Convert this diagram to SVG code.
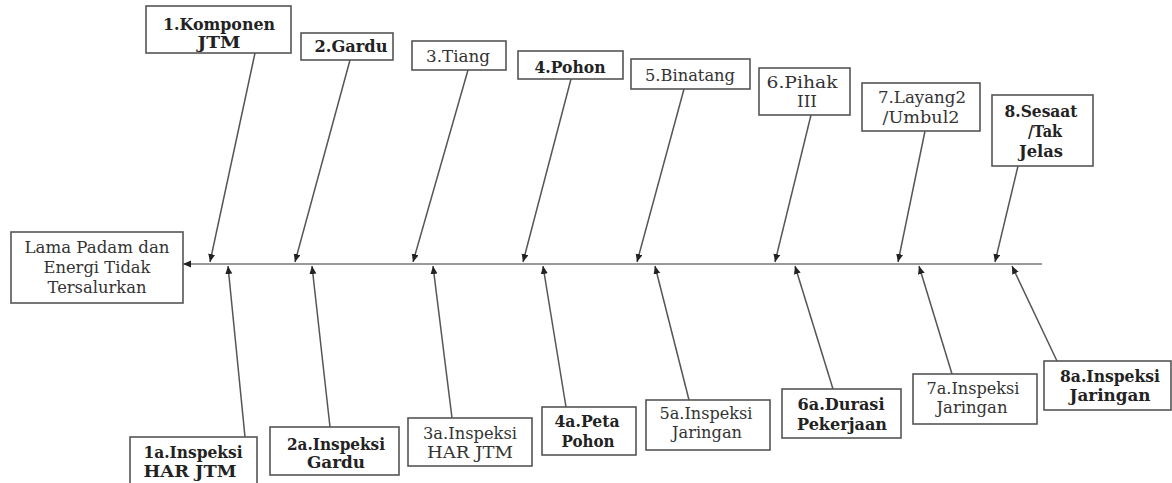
<svg xmlns="http://www.w3.org/2000/svg" width="1172" height="483" viewBox="0 0 1172 483">
<style>
rect{fill:#fff;stroke:#555;stroke-width:1.6}
text{font-family:'DejaVu Serif','Liberation Serif',serif;font-size:16px;fill:#333;text-anchor:middle}
.b{font-weight:bold;fill:#222}
.c line{stroke:#555;stroke-width:1.5;marker-end:url(#ah)}
.c line.sp{stroke:#777}
</style>
<defs>
<marker id="ah" markerUnits="userSpaceOnUse" markerWidth="9" markerHeight="8" refX="8" refY="3.5" orient="auto"><path d="M0,0 L8,3.5 L0,7 z" fill="#222"/></marker>
</defs>
<g class="c" id="connectors">
<line class="sp" x1="1042" y1="264" x2="183" y2="264"/>
<line x1="255" y1="53" x2="210" y2="262"/>
<line x1="350" y1="60" x2="295" y2="262"/>
<line x1="468" y1="70" x2="413" y2="262"/>
<line x1="571" y1="79" x2="523" y2="262"/>
<line x1="684" y1="89" x2="637" y2="262"/>
<line x1="811" y1="115" x2="775" y2="262"/>
<line x1="925" y1="131" x2="898" y2="262"/>
<line x1="1018" y1="166" x2="995" y2="262"/>
<line x1="245" y1="437" x2="228" y2="266"/>
<line x1="330" y1="427" x2="312" y2="266"/>
<line x1="452" y1="418" x2="433" y2="266"/>
<line x1="566" y1="407" x2="543" y2="266"/>
<line x1="689" y1="400" x2="655" y2="266"/>
<line x1="833" y1="389" x2="795" y2="266"/>
<line x1="952" y1="374" x2="919" y2="266"/>
<line x1="1057" y1="361" x2="1012" y2="266"/>
</g>
<g id="head"><rect x="11" y="232" width="172" height="71"/>
<text x="97" y="253" textLength="145" lengthAdjust="spacingAndGlyphs">Lama Padam dan</text>
<text x="97" y="273" textLength="107" lengthAdjust="spacingAndGlyphs">Energi Tidak</text>
<text x="97" y="293" textLength="99" lengthAdjust="spacingAndGlyphs">Tersalurkan</text></g>
<g id="n1"><rect x="146" y="6" width="145" height="47"/>
<text class="b" x="219" y="30" textLength="112" lengthAdjust="spacingAndGlyphs">1.Komponen</text>
<text class="b" x="219" y="48" textLength="43" lengthAdjust="spacingAndGlyphs">JTM</text></g>
<g id="n2"><rect x="301" y="33" width="92" height="27"/>
<text class="b" x="351" y="52" textLength="73" lengthAdjust="spacingAndGlyphs">2.Gardu</text></g>
<g id="n3"><rect x="412" y="41" width="94" height="29"/>
<text x="458" y="62" textLength="64" lengthAdjust="spacingAndGlyphs">3.Tiang</text></g>
<g id="n4"><rect x="518" y="51" width="105" height="28"/>
<text class="b" x="570" y="73" textLength="71" lengthAdjust="spacingAndGlyphs">4.Pohon</text></g>
<g id="n5"><rect x="631" y="59" width="119" height="30"/>
<text x="690" y="81" textLength="90" lengthAdjust="spacingAndGlyphs">5.Binatang</text></g>
<g id="n6"><rect x="759" y="68" width="91" height="47"/>
<text x="802" y="88" textLength="71" lengthAdjust="spacingAndGlyphs">6.Pihak</text>
<text x="807" y="107" textLength="20" lengthAdjust="spacingAndGlyphs">III</text></g>
<g id="n7"><rect x="862" y="83" width="118" height="48"/>
<text x="922" y="103" textLength="88" lengthAdjust="spacingAndGlyphs">7.Layang2</text>
<text x="921" y="123" textLength="77" lengthAdjust="spacingAndGlyphs">/Umbul2</text></g>
<g id="n8"><rect x="992" y="95" width="101" height="71"/>
<text class="b" x="1041" y="117" textLength="73" lengthAdjust="spacingAndGlyphs">8.Sesaat</text>
<text class="b" x="1045" y="137" textLength="34" lengthAdjust="spacingAndGlyphs">/Tak</text>
<text class="b" x="1041" y="157" textLength="44" lengthAdjust="spacingAndGlyphs">Jelas</text></g>
<g id="n1a"><rect x="130" y="437" width="127" height="52"/>
<text class="b" x="193" y="458" textLength="99" lengthAdjust="spacingAndGlyphs">1a.Inspeksi</text>
<text class="b" x="190" y="477" textLength="93" lengthAdjust="spacingAndGlyphs">HAR JTM</text></g>
<g id="n2a"><rect x="270" y="427" width="129" height="48"/>
<text class="b" x="336" y="450" textLength="98" lengthAdjust="spacingAndGlyphs">2a.Inspeksi</text>
<text class="b" x="336" y="468" textLength="58" lengthAdjust="spacingAndGlyphs">Gardu</text></g>
<g id="n3a"><rect x="408" y="418" width="124" height="48"/>
<text x="470" y="439" textLength="94" lengthAdjust="spacingAndGlyphs">3a.Inspeksi</text>
<text x="470" y="458" textLength="86" lengthAdjust="spacingAndGlyphs">HAR JTM</text></g>
<g id="n4a"><rect x="542" y="407" width="94" height="48"/>
<text class="b" x="587" y="427" textLength="65" lengthAdjust="spacingAndGlyphs">4a.Peta</text>
<text class="b" x="588" y="447" textLength="53" lengthAdjust="spacingAndGlyphs">Pohon</text></g>
<g id="n5a"><rect x="646" y="400" width="124" height="50"/>
<text x="706" y="419" textLength="93" lengthAdjust="spacingAndGlyphs">5a.Inspeksi</text>
<text x="707" y="438" textLength="70" lengthAdjust="spacingAndGlyphs">Jaringan</text></g>
<g id="n6a"><rect x="782" y="389" width="119" height="49"/>
<text class="b" x="841" y="410" textLength="87" lengthAdjust="spacingAndGlyphs">6a.Durasi</text>
<text class="b" x="842" y="430" textLength="90" lengthAdjust="spacingAndGlyphs">Pekerjaan</text></g>
<g id="n7a"><rect x="913" y="374" width="124" height="50"/>
<text x="973" y="394" textLength="93" lengthAdjust="spacingAndGlyphs">7a.Inspeksi</text>
<text x="972" y="413" textLength="71" lengthAdjust="spacingAndGlyphs">Jaringan</text></g>
<g id="n8a"><rect x="1044" y="361" width="127" height="49"/>
<text class="b" x="1110" y="382" textLength="100" lengthAdjust="spacingAndGlyphs">8a.Inspeksi</text>
<text class="b" x="1110" y="401" textLength="81" lengthAdjust="spacingAndGlyphs">Jaringan</text></g>
</svg>
